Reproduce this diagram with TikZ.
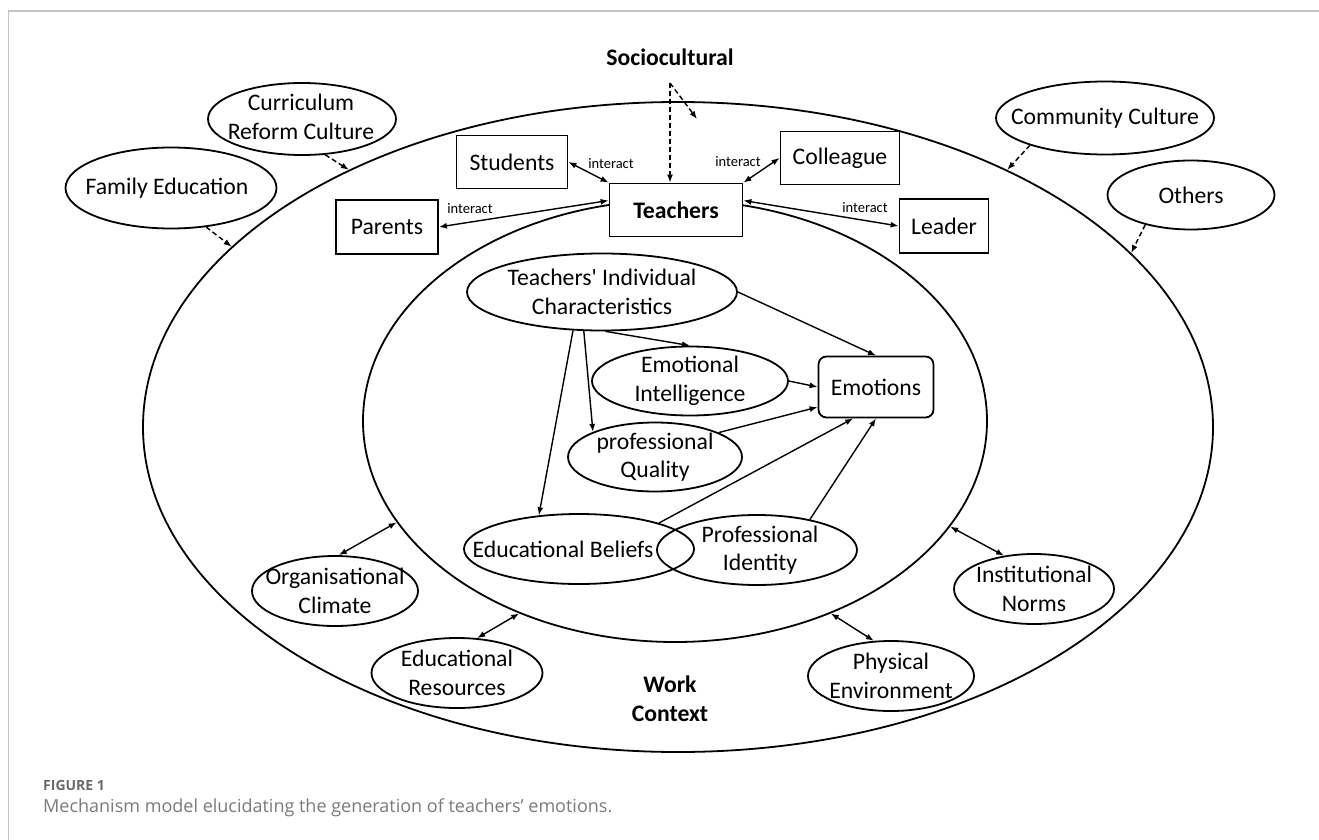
\documentclass[tikz,border=0pt]{standalone}
\usepackage{fontspec}
\setmainfont{Carlito}[Ligatures=TeXOff]
\newfontfamily\capfont{Open Sans}
\usetikzlibrary{shapes.geometric,arrows.meta}
\definecolor{capgray}{HTML}{7A7A7A}
\definecolor{figgray}{HTML}{6A6A6A}
\definecolor{framegray}{HTML}{C4C4C4}
\begin{document}
\begin{tikzpicture}[x=1pt,y=-1pt,
  oval/.style={ellipse,draw,line width=1.8pt,inner sep=0pt},
  boxn/.style={rectangle,draw,line width=1.8pt,inner sep=0pt,fill=white},
  txt/.style={font=\fontsize{23.7}{28.5}\selectfont,align=center,inner sep=0pt},
  btxt/.style={font=\fontsize{23.7}{28.5}\selectfont\bfseries,align=center,inner sep=0pt},
  smalltxt/.style={font=\fontsize{14.5}{16}\selectfont,inner sep=0pt},
  arr/.style={line width=1.4pt,-{Latex[length=8pt,width=6pt]}},
  darr/.style={line width=1.4pt,{Latex[length=8pt,width=6pt]}-{Latex[length=8pt,width=6pt]}},
  dsh/.style={arr,dash pattern=on 5pt off 3pt}
]
\useasboundingbox (0,0) rectangle (1319,840);
% frame
\draw[framegray,line width=1.5pt] (8.5,840) -- (8.5,11) -- (1319,11);

% big ellipses
\node[oval,minimum width=1070,minimum height=650] (outer) at (678,427) {};
\node[oval,minimum width=624,minimum height=442] (inner) at (675,421) {};

% title
\node[btxt] (soc) at (670,57) {Sociocultural};
\coordinate (sc) at (670,83);
\coordinate (sd) at (697,119);

% outer ellipses
\node[oval,minimum width=188,minimum height=72] (cur) at (302,119) {};
\node[txt] (curt) at (301,117) {Curriculum\\Reform Culture};
\node[oval,minimum width=211,minimum height=81] (fe) at (171,188) {};
\node[txt] (fet) at (167,188) {Family Education};
\node[oval,minimum width=218,minimum height=73] (cc) at (1105,118) {};
\node[txt] (cct) at (cc) {Community Culture};
\node[oval,minimum width=167,minimum height=69] (oth) at (1191,195) {};
\node[txt] (otht) at (oth) {Others};

% boxes
\node[boxn,minimum width=111,minimum height=53,txt] (stu) at (512,162) {Students};
\node[boxn,minimum width=102,minimum height=54,txt] (par) at (387,227) {Parents};
\node[boxn,minimum width=133,minimum height=53,btxt] (teach) at (676,210) {Teachers};
\node[boxn,minimum width=119,minimum height=53,txt] (col) at (840,158) {Colleague};
\node[boxn,minimum width=89,minimum height=54,txt] (lead) at (944,226) {Leader};

% interact labels
\node[smalltxt] (l1) at (611,164) {interact};
\node[smalltxt] (l2) at (470,209) {interact};
\node[smalltxt] (l3) at (738,162) {interact};
\node[smalltxt] (l4) at (865,208) {interact};

% inner nodes
\node[oval,minimum width=270,minimum height=77] (tic) at (602,292) {};
\node[txt] (tict) at (tic) {Teachers' Individual\\Characteristics};
\node[oval,minimum width=196,minimum height=69] (ei) at (690,381) {};
\node[txt] (eit) at (ei) {Emotional\\Intelligence};
\node[oval,minimum width=174,minimum height=69] (pq) at (655,457) {};
\node[txt] (pqt) at (pq) {professional\\Quality};
\node[oval,minimum width=230,minimum height=70] (eb) at (579,549) {};
\node[txt] (ebt) at (563,549) {Educational Beliefs};
\node[oval,minimum width=200,minimum height=70] (pi) at (757,550) {};
\node[txt] (pit) at (760,550) {Professional\\Identity};
\node[rectangle,draw,line width=1.8pt,rounded corners=8pt,minimum width=115,minimum height=61,txt] (emo) at (876,387) {Emotions};

% work context nodes
\node[oval,minimum width=166,minimum height=70] (org) at (335,591) {};
\node[txt] (orgt) at (org) {Organisational\\Climate};
\node[oval,minimum width=171,minimum height=70] (edr) at (457,673) {};
\node[txt] (edrt) at (edr) {Educational\\Resources};
\node[oval,minimum width=166,minimum height=70] (phy) at (891,676) {};
\node[txt] (phyt) at (phy) {Physical\\Environment};
\node[oval,minimum width=160,minimum height=70] (ins) at (1034,589) {};
\node[txt] (inst) at (ins) {Institutional\\Norms};
\node[btxt] (wc) at (670,699) {Work\\Context};

% dashed arrows
\draw[dsh] (sc) -- (sc |- teach.north);
\draw[dsh] (sc) -- (sd);
\draw[dsh] (cur.303.7) -- (outer.142.6);
\draw[dsh] (fe.312.8) -- (outer.158.2);
\draw[dsh] (cc.200) -- (outer.38);
\draw[dsh] (oth.213.7) -- (outer.21.9);

% interactions
\draw[darr] (stu.east) -- (teach.north west);
\draw[darr] (par.east) -- (teach.172);
\draw[darr] (col.west) -- (teach.north east);
\draw[darr] (teach.8) -- (lead.west);

% inner arrows
\draw[arr] (tic.east) -- (emo.north);
\draw[arr] (tic.275) -- (ei.north);
\draw[arr] (tic.245.8) -- (pq.158.2);
\draw[arr] (tic.233) -- (eb.140);
\draw[arr] (ei.east) -- (emo.west);
\draw[arr] (pq.21) -- (emo.199);
\draw[arr] (eb.18) -- (emo.234.2);
\draw[arr] (pi.30.8) -- (emo.south);

% work context arrows
\draw[darr] (org.84) -- (inner.200);
\draw[darr] (edr.60) -- (inner.231.4);
\draw[darr] (phy.116.6) -- (inner.309.8);
\draw[darr] (ins.132.4) -- (inner.339);

% caption
\node[anchor=west,inner sep=0pt,font=\capfont\bfseries\fontsize{14}{16}\selectfont,text=figgray] (fig) at (43,785) {FIGURE 1};
\node[anchor=west,inner sep=0pt,font=\capfont\fontsize{18}{21}\selectfont,text=capgray] (cap) at (43,808) {Mechanism model elucidating the generation of teachers’ emotions.};
\end{tikzpicture}
\end{document}
